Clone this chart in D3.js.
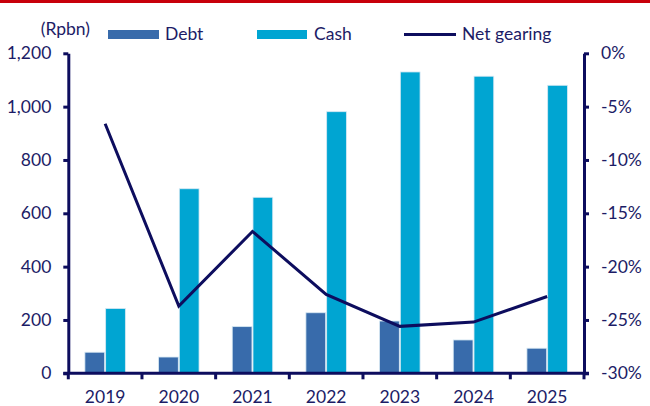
<!DOCTYPE html>
<html>
<head>
<meta charset="utf-8">
<script src="https://cdn.jsdelivr.net/npm/d3@7/dist/d3.min.js"></script>
<style>
  html, body { margin: 0; padding: 0; background: #fff; }
  svg { display: block; font-family: Lato, "Noto Sans", sans-serif; }
</style>
</head>
<body>
<svg id="chart" width="650" height="406"></svg>
<script>
// Debt, cash (Rp bn) and net gearing (%) by year
const years = ["2019", "2020", "2021", "2022", "2023", "2024", "2025"];
const debt = [79, 61, 175, 227, 196, 125, 94];
const cash = [243, 692, 660, 981, 1130, 1114, 1080];
const netGearing = [-6.6, -23.7, -16.7, -22.6, -25.6, -25.2, -22.8];
const leftTicks = [0, 200, 400, 600, 800, 1000, 1200];
const rightTicks = [0, -5, -10, -15, -20, -25, -30];

const navy = "#0d0d5e";
const textColor = "#1c1c66";
const debtColor = "#386bab";
const cashColor = "#00a5d2";
const fontSize = 17.5;

const svg = d3.select("#chart");
const plot = { left: 68.3, right: 584, top: 53.3, bottom: 373.3 };

// top accent rule
svg.append("rect").attr("x", 0).attr("y", 0).attr("width", 650).attr("height", 3).attr("fill", "#c8000a");

const x = d3.scaleBand().domain(years).range([plot.left, plot.right]).padding(0);
const x1 = d3.scaleBand().domain(["debt", "cash"]).range([16.6, x.bandwidth() - 16.6]).paddingInner(0.05);
const yL = d3.scaleLinear().domain([0, 1200]).range([plot.bottom, plot.top]);
const yR = d3.scaleLinear().domain([-30, 0]).range([plot.bottom, plot.top]);

// bars
const groups = svg.append("g").selectAll("g").data(years).join("g")
  .attr("transform", d => `translate(${x(d)},0)`);
const seriesSpec = [
  { key: "debt", values: debt, color: debtColor },
  { key: "cash", values: cash, color: cashColor }
];
seriesSpec.forEach(s => {
  groups.append("rect")
    .attr("x", x1(s.key))
    .attr("width", x1.bandwidth())
    .attr("y", (d, i) => yL(s.values[i]))
    .attr("height", (d, i) => yL(0) - yL(s.values[i]))
    .attr("fill", s.color)
    .attr("stroke", "#d6e8f3")
    .attr("stroke-width", 0.8);
});

// net gearing line
const line = d3.line()
  .x((d, i) => x(years[i]) + x.bandwidth() / 2)
  .y(d => yR(d));
svg.append("path").datum(netGearing)
  .attr("d", line)
  .attr("fill", "none")
  .attr("stroke", navy)
  .attr("stroke-width", 3);

// axes
function styleAxis(g) {
  g.selectAll(".domain").attr("stroke", navy).attr("stroke-width", 3);
  g.selectAll(".tick line").attr("stroke", navy).attr("stroke-width", 3);
  g.selectAll("text").attr("fill", textColor).attr("font-size", fontSize)
    .attr("font-family", "Lato, 'Noto Sans', sans-serif");
}

svg.append("g").attr("transform", `translate(${plot.left},0)`)
  .call(d3.axisLeft(yL).tickValues(leftTicks).tickFormat(d3.format(",")).tickSize(5).tickSizeOuter(0).tickPadding(12))
  .call(styleAxis);

svg.append("g").attr("transform", `translate(${plot.right},0)`)
  .call(d3.axisRight(yR).tickValues(rightTicks).tickFormat(d => d + "%").tickSize(5).tickSizeOuter(0).tickPadding(12))
  .call(styleAxis);

// category axis: ticks at band boundaries
const bottom = svg.append("g").attr("transform", `translate(0,${plot.bottom})`);
bottom.append("line").attr("x1", plot.left - 5).attr("x2", plot.right + 5)
  .attr("stroke", navy).attr("stroke-width", 3);
const bounds = years.map(d => x(d)).concat([plot.right]);
bottom.selectAll("line.tk").data(bounds).join("line").attr("class", "tk")
  .attr("x1", d => d).attr("x2", d => d).attr("y1", 0).attr("y2", 6)
  .attr("stroke", navy).attr("stroke-width", 3);
bottom.selectAll("text").data(years).join("text")
  .attr("x", d => x(d) + x.bandwidth() / 2)
  .attr("y", 29.5)
  .attr("text-anchor", "middle")
  .attr("fill", textColor)
  .attr("font-size", fontSize)
  .text(d => d);

// unit label and legend
svg.append("text").attr("x", 90).attr("y", 35).attr("text-anchor", "end")
  .attr("fill", textColor).attr("font-size", fontSize).text("(Rpbn)");
const legend = svg.append("g");
legend.append("rect").attr("x", 108).attr("y", 30).attr("width", 51).attr("height", 9).attr("fill", debtColor);
legend.append("text").attr("x", 165).attr("y", 40).attr("fill", textColor).attr("font-size", fontSize).text("Debt");
legend.append("rect").attr("x", 257).attr("y", 30).attr("width", 50).attr("height", 9).attr("fill", cashColor);
legend.append("text").attr("x", 314).attr("y", 40).attr("fill", textColor).attr("font-size", fontSize).text("Cash");
legend.append("line").attr("x1", 404).attr("x2", 456).attr("y1", 34.5).attr("y2", 34.5)
  .attr("stroke", navy).attr("stroke-width", 3);
legend.append("text").attr("x", 462).attr("y", 40).attr("fill", textColor).attr("font-size", fontSize).text("Net gearing");
</script>
</body>
</html>
